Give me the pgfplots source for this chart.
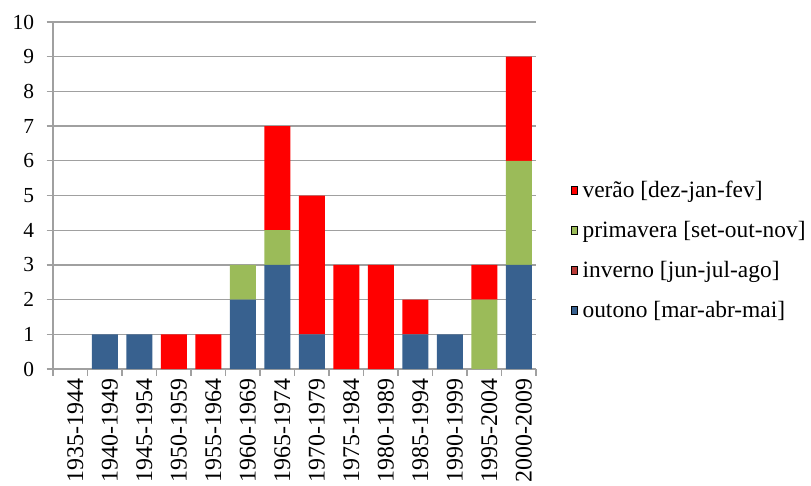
\documentclass[border=0pt]{standalone}
\usepackage{fontspec}
\setmainfont{Liberation Serif}
\usepackage{pgfplots}
\pgfplotsset{compat=1.18}
\definecolor{cverao}{HTML}{FF0000}
\definecolor{cprim}{HTML}{9BBB59}
\definecolor{cinv}{HTML}{B83A37}
\definecolor{cout}{HTML}{38618F}
\definecolor{cgrid}{HTML}{A0A0A0}
\pgfplotsset{ybar legend/.style={legend image code/.code={\fill[##1,draw=none] (0bp,-6bp) rectangle (13bp,6bp);}}}
\begin{document}
\begin{tikzpicture}
\begin{axis}[name=ax,
  scale only axis, width=483bp, height=347bp,
  ybar stacked, bar width=26bp,
  xmin=-0.5, xmax=13.5, ymin=0, ymax=10,
  axis x line=bottom, axis y line=left,
  axis line style={-, cgrid, line width=1.2bp},
  ytick={0,1,...,10},
  ymajorgrids, major grid style={cgrid, line width=1.2bp},
  tick align=outside,
  major tick length=6.5bp,
  ytick style={cgrid, line width=1.2bp},
  xtick={0,...,13},
  xtick style={draw=none},
  xticklabels={1935-1944,1940-1949,1945-1954,1950-1959,1955-1964,1960-1969,1965-1974,1970-1979,1975-1984,1980-1989,1985-1994,1990-1999,1995-2004,2000-2009},
  xticklabel style={rotate=90, anchor=east, font=\fontsize{24}{26}\selectfont, yshift=-5bp},
  extra x ticks={-0.5,0.5,...,13.5},
  extra x tick labels={},
  extra x tick style={grid=none, xtick style={draw=cgrid, line width=1.2bp}},
  yticklabel style={font=\fontsize{21.5}{24}\selectfont, xshift=-9bp},
  /pgf/number format/assume math mode=true,
  reverse legend,
  legend cell align=left,
  legend style={at={(1,0.349)}, anchor=west, xshift=35bp, yshift=-4bp, draw=none, fill=none,
    inner sep=0pt, row sep=19bp,
    font=\fontsize{23.5}{26}\selectfont,
    nodes={text height=16bp, text depth=5bp, inner ysep=0pt, inner xsep=5bp}},
]
\addplot[fill=cout, draw=none] coordinates {(0,0) (1,1) (2,1) (3,0) (4,0) (5,2) (6,3) (7,1) (8,0) (9,0) (10,1) (11,1) (12,0) (13,3)};
\addplot[fill=cinv, draw=none] coordinates {(0,0) (1,0) (2,0) (3,0) (4,0) (5,0) (6,0) (7,0) (8,0) (9,0) (10,0) (11,0) (12,0) (13,0)};
\addplot[fill=cprim, draw=none] coordinates {(0,0) (1,0) (2,0) (3,0) (4,0) (5,1) (6,1) (7,0) (8,0) (9,0) (10,0) (11,0) (12,2) (13,3)};
\addplot[fill=cverao, draw=none] coordinates {(0,0) (1,0) (2,0) (3,1) (4,1) (5,0) (6,3) (7,4) (8,3) (9,3) (10,1) (11,0) (12,1) (13,3)};
\legend{outono [mar-abr-mai],inverno [jun-jul-ago],primavera [set-out-nov],verão [dez-jan-fev]}
\end{axis}
\pgfresetboundingbox
\path[use as bounding box] ([xshift=-53bp,yshift=-117bp]ax.south west) rectangle ([xshift=275bp,yshift=22bp]ax.north east);
\end{tikzpicture}
\end{document}
